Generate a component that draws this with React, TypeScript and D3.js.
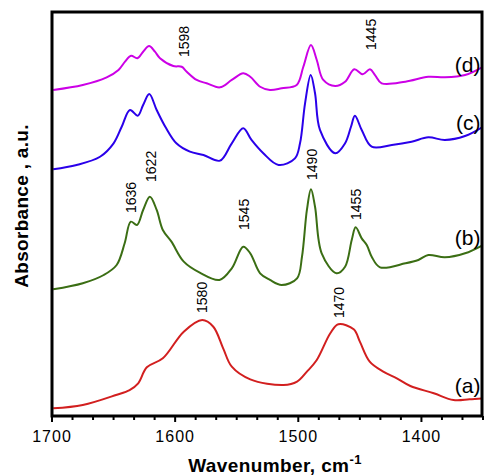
import * as d3 from "d3";

// wavenumber (cm-1) / absorbance (a.u., offset stacked)
const waveA = [1699, 1675, 1648, 1637, 1630, 1623, 1610, 1593, 1578, 1569, 1561, 1554, 1539, 1512, 1501, 1493, 1485, 1474, 1467.5, 1455, 1450, 1442, 1431, 1420, 1409, 1390, 1374, 1361, 1350];
const absA = [0.076, 0.109, 0.208, 0.257, 0.324, 0.482, 0.571, 0.835, 0.95, 0.884, 0.67, 0.488, 0.363, 0.307, 0.34, 0.439, 0.554, 0.819, 0.908, 0.858, 0.736, 0.538, 0.439, 0.373, 0.297, 0.225, 0.158, 0.165, 0.175];

const waveB = [1699, 1675, 1658, 1647.5, 1641, 1636, 1631, 1626, 1620.5, 1615, 1610, 1603, 1593, 1580, 1564, 1554, 1544.7, 1539, 1531, 1523, 1513.5, 1501, 1497, 1493, 1489.7, 1486.4, 1481, 1469, 1462, 1456.6, 1453.4, 1448.5, 1444.4, 1440.4, 1433.6, 1413, 1402.5, 1394.4, 1381, 1364.6, 1350];
const absB = [1.254, 1.314, 1.396, 1.495, 1.71, 1.924, 1.891, 2.04, 2.171, 2.04, 1.842, 1.726, 1.528, 1.419, 1.347, 1.462, 1.676, 1.611, 1.413, 1.347, 1.297, 1.363, 1.577, 2.04, 2.245, 2.072, 1.611, 1.413, 1.478, 1.743, 1.868, 1.759, 1.693, 1.577, 1.472, 1.512, 1.545, 1.594, 1.571, 1.611, 1.693];

const waveC = [1699, 1680, 1661, 1650, 1643.4, 1636.7, 1630.4, 1626, 1621, 1615, 1608, 1599, 1588, 1577, 1563.6, 1554, 1544.7, 1538, 1528.4, 1516, 1502.7, 1498.6, 1494.5, 1489.9, 1486.4, 1482.4, 1470, 1462, 1457.2, 1454, 1448.5, 1440.4, 1424, 1408, 1394.4, 1381, 1364.6, 1350];
const absC = [2.443, 2.485, 2.567, 2.7, 2.864, 3.03, 2.973, 3.079, 3.188, 3.03, 2.864, 2.7, 2.617, 2.584, 2.528, 2.7, 2.849, 2.733, 2.601, 2.485, 2.551, 2.7, 3.096, 3.376, 3.195, 2.832, 2.601, 2.7, 2.864, 2.973, 2.832, 2.666, 2.683, 2.716, 2.759, 2.733, 2.772, 2.864];

const waveD = [1699, 1675, 1655.6, 1646, 1640.7, 1635.8, 1630.7, 1626, 1621.2, 1616.4, 1612.3, 1601.5, 1594.7, 1590.6, 1582.5, 1574.4, 1563.6, 1554, 1544.7, 1539, 1531, 1523, 1513.5, 1501.3, 1495.9, 1489.7, 1485, 1479.7, 1470, 1462, 1454.5, 1447.7, 1441.8, 1437.7, 1432.3, 1413, 1394.4, 1381, 1364.6, 1350];
const absD = [3.228, 3.277, 3.353, 3.426, 3.508, 3.567, 3.542, 3.607, 3.663, 3.607, 3.542, 3.465, 3.458, 3.409, 3.327, 3.294, 3.254, 3.327, 3.393, 3.359, 3.26, 3.228, 3.245, 3.277, 3.458, 3.673, 3.525, 3.327, 3.267, 3.31, 3.433, 3.383, 3.433, 3.376, 3.294, 3.31, 3.359, 3.353, 3.376, 3.458];

const seriesNames = ["(a)", "(b)", "(c)", "(d)"];
const seriesColors = ["#d21f1f", "#3b6e14", "#2a00ea", "#cc00e6"];
const seriesTagAbs = [0.228, 1.693, 2.832, 3.41];

const peakText = ["1598", "1445", "1636", "1622", "1545", "1490", "1455", "1580", "1470"];
const peakWave = [1593, 1441, 1636, 1620, 1544, 1489, 1453, 1578, 1467];
const peakAbs = [3.554, 3.624, 2.01, 2.317, 1.842, 2.337, 1.941, 1.02, 0.97];

const xTicks = [1700, 1600, 1500, 1400];

const W = 485;
const H = 475;
const m = { left: 52, top: 12, right: 482, bottom: 416 };
const font = "'Liberation Sans', Arial, sans-serif";

export default function App() {
  const x = d3.scaleLinear().domain([1700, 1350]).range([m.left, 483]);
  const y = d3.scaleLinear().domain([0, 4]).range([m.bottom, m.top]);

  const line = d3
    .line<[number, number]>()
    .x((d) => x(d[0]))
    .y((d) => y(d[1]))
    .curve(d3.curveCatmullRom.alpha(0.5));

  const waves = [waveA, waveB, waveC, waveD];
  const absList = [absA, absB, absC, absD];
  const series = waves.map((w, i) => w.map((v, j) => [v, absList[i][j]] as [number, number]));

  const minor = d3.range(0, 22).map((i) => 1700 - (i * 100) / 6).filter((v) => v >= 1350 && !xTicks.some((t) => Math.abs(t - v) < 0.01));

  return (
    <svg width={W} height={H} style={{ position: "absolute", left: 0, top: 0, background: "#fff" }} fontFamily={font}>
      <defs>
        <clipPath id="plot">
          <rect x={m.left} y={m.top} width={m.right - m.left} height={m.bottom - m.top} />
        </clipPath>
      </defs>
      <g clipPath="url(#plot)">
        {series.map((s, i) => (
          <path key={i} d={line(s) ?? ""} fill="none" stroke={seriesColors[i]} strokeWidth={2} />
        ))}
      </g>
      <rect x={m.left} y={m.top} width={m.right - m.left} height={m.bottom - m.top} fill="none" stroke="#000" strokeWidth={3} />
      {xTicks.map((t) => (
        <g key={t}>
          <line x1={x(t)} x2={x(t)} y1={m.bottom} y2={m.bottom + 6} stroke="#000" strokeWidth={2} />
          <text x={x(t)} y={442} textAnchor="middle" fontSize={16} letterSpacing={1}>{t}</text>
        </g>
      ))}
      {minor.map((t) => (
        <line key={t} x1={x(t)} x2={x(t)} y1={m.bottom} y2={m.bottom + 4} stroke="#000" strokeWidth={2} />
      ))}
      {seriesNames.map((n, i) => (
        <text key={n} x={x(1352)} y={y(seriesTagAbs[i])} textAnchor="end" fontSize={21}>{n}</text>
      ))}
      {peakText.map((p, i) => (
        <text
          key={p}
          transform={`translate(${x(peakWave[i])},${y(peakAbs[i])}) rotate(-90)`}
          dy="0.36em"
          fontSize={14}
        >
          {p}
        </text>
      ))}
      <text x={275} y={472} textAnchor="middle" fontSize={19} fontWeight="bold" letterSpacing={0.4}>
        Wavenumber, cm<tspan dy={-8} fontSize={13}>-1</tspan>
      </text>
      <text transform={`translate(28,206) rotate(-90)`} textAnchor="middle" fontSize={19} fontWeight="bold" letterSpacing={0.3}>
        Absorbance , a.u.
      </text>
    </svg>
  );
}
